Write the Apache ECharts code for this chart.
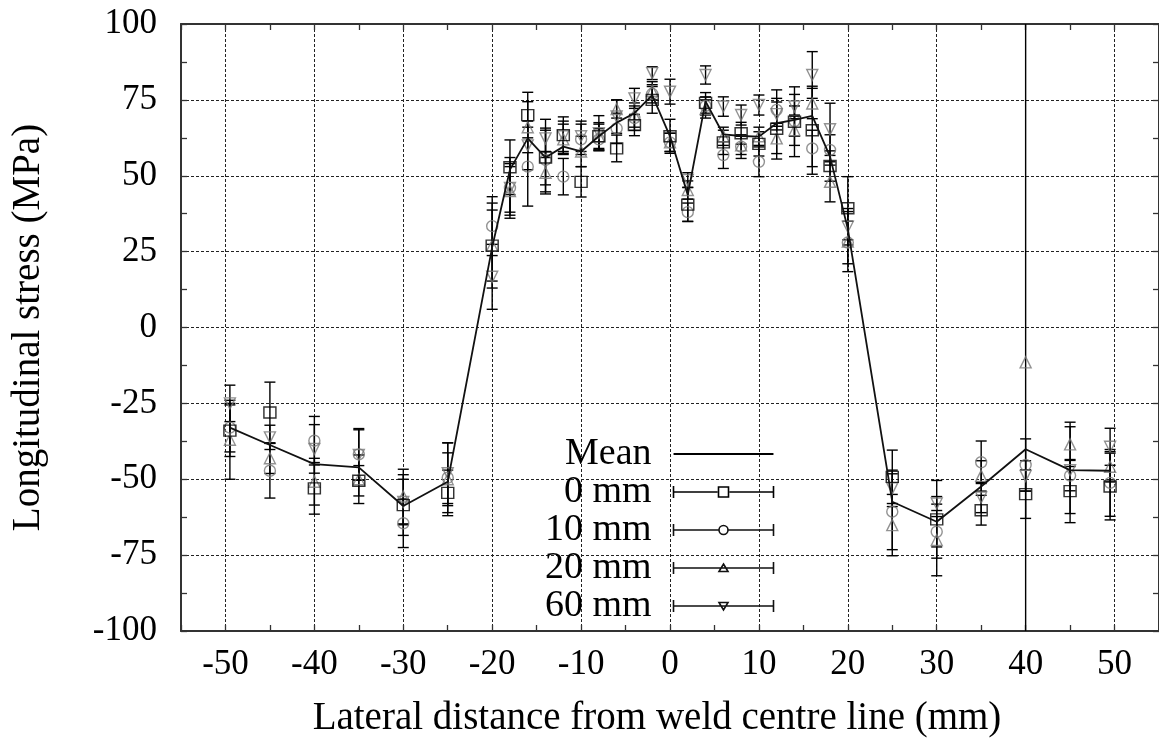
<!DOCTYPE html>
<html>
<head>
<meta charset="utf-8">
<script src="https://cdn.jsdelivr.net/npm/echarts@6/dist/echarts.min.js"></script>
<style>
html,body{margin:0;padding:0;background:#fff;}
#c{width:1159px;height:745px;}
</style>
</head>
<body>
<div id="c"></div>
<script>
// ---- data ----
const xPositions = [-49.5, -45, -40, -35, -30, -25, -20, -18, -16, -14, -12, -10, -8, -6, -4, -2, 0, 2, 4, 6, 8, 10, 12, 14, 16, 18, 20, 25, 30, 35, 40, 45, 49.5];

const meanStress = [-33, -38.7, -45, -46.1, -58.8, -50.8, 26.5, 52, 62.3, 56, 59.6, 58, 63, 67.5, 70.6, 76.6, 63, 43.7, 74.5, 63.6, 63.1, 62.9, 67.3, 68.4, 69.7, 56.3, 32.5, -57.4, -64, -52.4, -40.1, -47, -47.2];

const stress0mm  = [-34, -28, -53, -50.5, -58.5, -54.5, 27, 52.8, 70, 56, 63.4, 48, 63, 59, 66.7, 75, 63, 40.5, 74, 61, 64, 60.5, 65.5, 67.8, 65, 53.2, 39.3, -49.2, -63.2, -60.2, -54.9, -53.9, -52.4];
const error0mm   = [8.5, 10, 8.5, 5, 10, 7.5, 14, 9, 7.5, 9, 6, 5, 4.5, 4.4, 3.5, 4.4, 5.6, 5.6, 3.4, 4, 3.6, 4, 10, 11.5, 14.5, 5, 10.4, 8.8, 12.8, 4.9, 8, 10.4, 11];

const stress10mm = [-33, -47.2, -37.3, -41.8, -64.5, -49.5, 33.4, 46, 53, 55.2, 49.7, 62, 62, 65.6, 69, 77, 61, 38, 73, 56.8, 59.6, 54.6, 71.7, 68, 59, 58.5, 28, -60.7, -67.3, -44.4, -45.3, -48.8, -51.2];
const error10mm  = [8, 9, 8, 8.5, 8, 11.5, 9.7, 10, 13, 10.5, 6, 5, 3.5, 5, 4, 3, 3, 3, 3, 4.4, 3.9, 4.9, 6.6, 5, 6, 5, 7, 12.5, 5, 7, 8.6, 5, 11];

const stress20mm = [-37, -43.1, -50.8, -50, -55.7, -50, 27, 45, 66, 51, 62, 58, 63, 72, 70, 78, 61, 45.3, 72, 63, 60, 63, 62.3, 65, 73.8, 48, 28.3, -65.1, -70, -48.9, -11.5, -38.5, -45.9];
const error20mm  = [13, 5, 7.7, 8, 9, 8.7, 11.7, 8, 8.4, 7, 5, 5, 4, 3, 4, 3, 3, 3, 3, 3, 3, 3, 5, 5, 5, 6.6, 9.9, 10.1, 11.8, 5, 150, 7.3, 5];

const stress60mm = [-25, -36.2, -40, -42, -57.5, -48, 16.7, 46, 60, 62.3, 63, 63, 64, 69.5, 75.5, 83.8, 77.7, 48.6, 83.2, 72.8, 70, 73.3, 70.3, 72.8, 83.2, 65.3, 33.2, -53, -58, -56, -48.9, -47, -39.3];
const error60mm  = [6, 4, 8, 8.3, 7.5, 10, 10.7, 8, 8, 6.3, 5, 5, 5.8, 5.5, 3.3, 2.1, 4.1, 2.4, 3, 3.2, 3.3, 3.3, 4, 4, 7.7, 8.6, 6, 6, 2.3, 5, 5, 14.3, 6.1];

const seriesNames = ['Mean', '0 mm', '10 mm', '20 mm', '60 mm'];
const xTitle = 'Lateral distance from weld centre line (mm)';
const yTitle = 'Longitudinal stress (MPa)';

// ---- chart ----
const FONT = 'Liberation Serif';
const chart = echarts.init(document.getElementById('c'), null, {renderer: 'canvas'});

function pairs(ys) { return xPositions.map((x, i) => [x, ys[i]]); }
function errTriples(ys, es) { return xPositions.map((x, i) => [x, ys[i], es[i]]); }

function errorSeries(name, ys, es) {
  return {
    name: name, type: 'custom', xAxisIndex: 0, yAxisIndex: 0, clip: true, z: 3,
    data: errTriples(ys, es),
    encode: {x: 0, y: 1},
    silent: true,
    renderItem: function (params, api) {
      const x = api.value(0), y = api.value(1), e = api.value(2);
      const top = api.coord([x, y + e]);
      const bot = api.coord([x, y - e]);
      const w = 5.5;
      const st = {stroke: '#000', lineWidth: 1.4, fill: null};
      return {
        type: 'group',
        children: [
          {type: 'line', shape: {x1: top[0], y1: top[1], x2: bot[0], y2: bot[1]}, style: st},
          {type: 'line', shape: {x1: top[0] - w, y1: top[1], x2: top[0] + w, y2: top[1]}, style: st},
          {type: 'line', shape: {x1: bot[0] - w, y1: bot[1], x2: bot[0] + w, y2: bot[1]}, style: st}
        ]
      };
    }
  };
}

function markerSeries(name, ys, symbol, size, color, rotate) {
  return {
    name: name, type: 'scatter', xAxisIndex: 0, yAxisIndex: 0, z: 4,
    data: pairs(ys), symbol: symbol, symbolSize: size, symbolRotate: rotate || 0,
    itemStyle: {color: 'rgba(0,0,0,0)', borderColor: color, borderWidth: 1.4},
    emphasis: {disabled: true}, silent: true
  };
}

const GREY = '#777';
const bar = 'M0 0V12M0 6H44M56 6H100M100 0V12';
const legendIcons = {
  mean: 'path://M0 0L0 0.01M0 6H100M100 12L100 12.01',
  sq: 'path://' + bar + 'M45 1H55V11H45Z',
  ci: 'path://M0 0V12M0 6H45.5M54.5 6H100M100 0V12M45.5 6A4.5 4.5 0 1 1 54.5 6A4.5 4.5 0 1 1 45.5 6Z',
  up: 'path://M0 0V12M0 6H100M100 0V12M50 2L54.5 9.5L45.5 9.5Z',
  dn: 'path://M0 0V12M0 6H100M100 0V12M45.5 2.5L54.5 2.5L50 10Z'
};

const tickAxisCommon = {
  type: 'value', gridIndex: 1,
  axisLabel: {show: false}, splitLine: {show: false},
  axisTick: {show: true, inside: true, length: 6, lineStyle: {color: '#333', width: 1.3}}
};

const option = {
  backgroundColor: '#fff',
  animation: false,
  grid: [
    {left: 181, right: 0, top: 24, bottom: 114, containLabel: false},
    {left: 181, right: 0, top: 24, bottom: 114, containLabel: false}
  ],
  xAxis: [
    {
      type: 'value', gridIndex: 0, position: 'bottom', min: -55, max: 55, splitNumber: 11,
      axisLine: {show: true, onZero: false, lineStyle: {color: '#333', width: 2}},
      axisTick: {show: false},
      axisLabel: {showMinLabel: false, showMaxLabel: false, fontFamily: FONT, fontSize: 35, color: '#000', margin: 16},
      splitLine: {show: true, lineStyle: {color: '#222', width: 1, type: [3, 2]}},
      name: xTitle, nameLocation: 'middle', nameGap: 68,
      nameTextStyle: {fontFamily: FONT, fontSize: 39, color: '#000', padding: [0, 26, 0, 0]}
    },
    Object.assign({}, tickAxisCommon, {position: 'bottom', min: -55, max: 55, interval: 5, axisLine: {show: false, onZero: false}}),
    Object.assign({}, tickAxisCommon, {position: 'top', min: -55, max: 55, interval: 5, axisLine: {show: true, onZero: false, lineStyle: {color: '#333', width: 2}}})
  ],
  yAxis: [
    {
      type: 'value', gridIndex: 0, position: 'left', min: -100, max: 100, interval: 25,
      axisLine: {show: true, onZero: false, lineStyle: {color: '#333', width: 2}},
      axisTick: {show: false},
      axisLabel: {fontFamily: FONT, fontSize: 35, color: '#000', margin: 24},
      splitLine: {show: true, lineStyle: {color: '#222', width: 1, type: [3, 2]}},
      name: yTitle, nameLocation: 'middle', nameGap: 133,
      nameTextStyle: {fontFamily: FONT, fontSize: 39, color: '#000'}
    },
    Object.assign({}, tickAxisCommon, {position: 'left', min: -100, max: 100, interval: 12.5, axisLine: {show: false, onZero: false}}),
    Object.assign({}, tickAxisCommon, {position: 'right', min: -100, max: 100, interval: 12.5, axisLine: {show: true, onZero: false, lineStyle: {color: '#333', width: 2}}})
  ],
  legend: {
    orient: 'vertical', align: 'right', right: 383, top: 435, padding: 0, itemGap: 0,
    itemWidth: 100, itemHeight: 12, selectedMode: false,
    textStyle: {fontFamily: FONT, fontSize: 38, color: '#000', lineHeight: 37, padding: [0, 17, 0, 0]},
    data: [
      {name: seriesNames[0], icon: legendIcons.mean, itemStyle: {color: 'none', borderColor: '#000', borderWidth: 2}},
      {name: seriesNames[1], icon: legendIcons.sq, itemStyle: {color: 'none', borderColor: '#000', borderWidth: 1.6}},
      {name: seriesNames[2], icon: legendIcons.ci, itemStyle: {color: 'none', borderColor: '#111', borderWidth: 1.6}},
      {name: seriesNames[3], icon: legendIcons.up, itemStyle: {color: 'none', borderColor: '#111', borderWidth: 1.6}},
      {name: seriesNames[4], icon: legendIcons.dn, itemStyle: {color: 'none', borderColor: '#111', borderWidth: 1.6}}
    ]
  },
  series: [
    errorSeries(seriesNames[1], stress0mm, error0mm),
    errorSeries(seriesNames[2], stress10mm, error10mm),
    errorSeries(seriesNames[3], stress20mm, error20mm),
    errorSeries(seriesNames[4], stress60mm, error60mm),
    markerSeries(seriesNames[2], stress10mm, 'circle', 11, GREY),
    markerSeries(seriesNames[3], stress20mm, 'triangle', 11, GREY),
    markerSeries(seriesNames[4], stress60mm, 'triangle', 11, GREY, 180),
    markerSeries(seriesNames[1], stress0mm, 'rect', [12, 11], '#000'),
    {
      name: seriesNames[0], type: 'line', xAxisIndex: 0, yAxisIndex: 0, z: 5,
      data: pairs(meanStress), symbol: 'none', silent: true,
      lineStyle: {color: '#111', width: 1.8}
    }
  ]
};
chart.setOption(option);
</script>
</body>
</html>
